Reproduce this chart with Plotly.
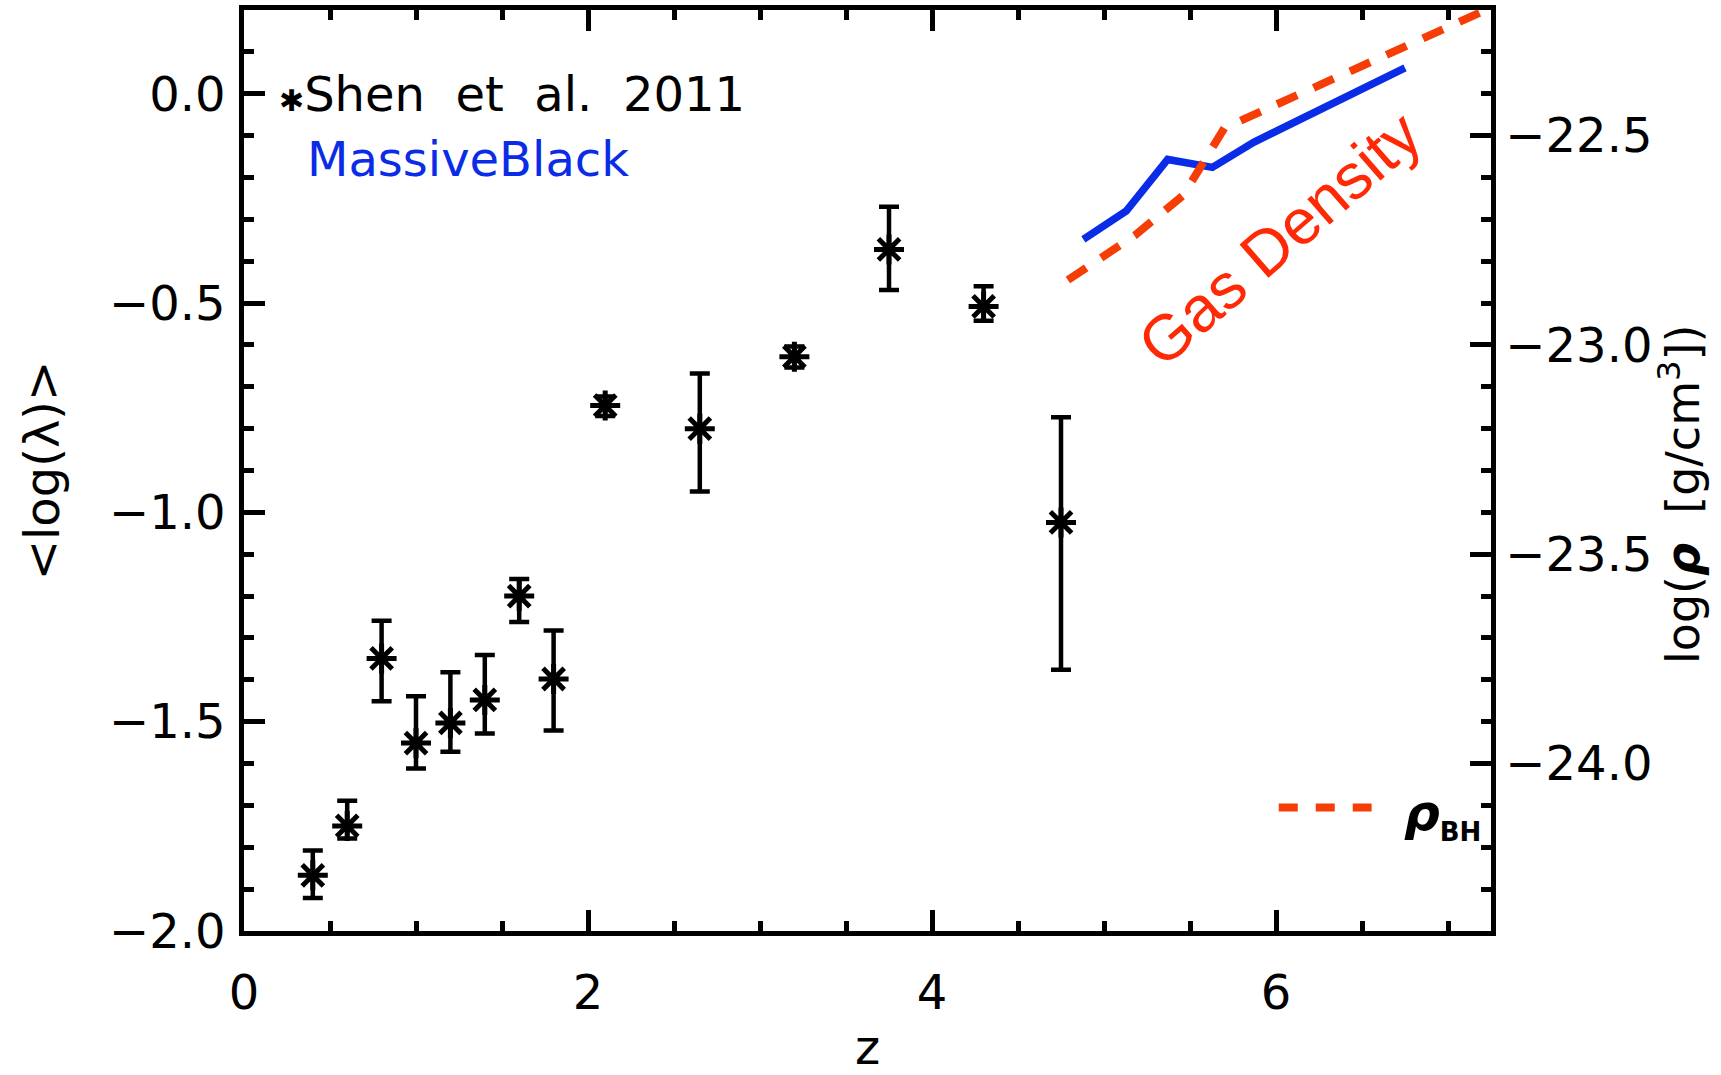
import plotly.graph_objects as go

# Shen et al. (2011): mean log Eddington ratio per redshift bin, with error-bar ends
z_shen = [0.4, 0.6, 0.8, 1.0, 1.2, 1.4, 1.6, 1.8, 2.1, 2.65, 3.2, 3.75, 4.3, 4.75]
loglam_mean = [-1.867, -1.749, -1.349, -1.551, -1.503, -1.448, -1.200, -1.398,
               -0.745, -0.800, -0.628, -0.372, -0.508, -1.024]
loglam_hi = [-1.808, -1.689, -1.259, -1.439, -1.382, -1.341, -1.159, -1.282,
             -0.723, -0.668, -0.604, -0.270, -0.460, -0.773]
loglam_lo = [-1.921, -1.779, -1.451, -1.612, -1.572, -1.528, -1.262, -1.521,
             -0.770, -0.950, -0.654, -0.469, -0.542, -1.376]

# MassiveBlack gas density around black holes, log(rho [g/cm^3])
z_mb = [4.88, 5.13, 5.37, 5.63, 5.87, 6.75]
rho_mb = [-22.748, -22.680, -22.557, -22.576, -22.516, -22.338]

# rho_BH curve, log(rho [g/cm^3])
z_bh = [4.79, 5.18, 5.46, 5.70, 7.30]
rho_bh = [-22.845, -22.738, -22.643, -22.482, -22.185]

x_ticks = [0, 2, 4, 6]
y_ticks = [-2.0, -1.5, -1.0, -0.5, 0.0]
y2_ticks = [-24.0, -23.5, -23.0, -22.5]

BLUE = "#0a2ce6"
ORANGE = "#f53d05"
RED = "#ff2a05"
FONT = "DejaVu Sans"

err_plus = [h - m for h, m in zip(loglam_hi, loglam_mean)]
err_minus = [m - l for m, l in zip(loglam_mean, loglam_lo)]

fig = go.Figure()

fig.add_trace(go.Scatter(
    x=z_shen, y=loglam_mean, mode="markers",
    marker=dict(symbol="asterisk-open", size=25, color="black",
                line=dict(color="black", width=5)),
    error_y=dict(type="data", symmetric=False, array=err_plus,
                 arrayminus=err_minus, color="black", thickness=4.5, width=10),
    showlegend=False,
))

fig.add_trace(go.Scatter(
    x=z_mb, y=rho_mb, mode="lines", yaxis="y2",
    line=dict(color=BLUE, width=7.5),
    showlegend=False,
))

fig.add_trace(go.Scatter(
    x=z_bh, y=rho_bh, mode="lines", yaxis="y2",
    line=dict(color=ORANGE, width=8, dash="22px,18px"),
    showlegend=False,
))

axis_common = dict(
    showline=True, linecolor="black", linewidth=4.5,
    ticks="inside", tickcolor="black", tickwidth=4.5, ticklen=21,
    showgrid=False, zeroline=False, automargin=False,
    tickfont=dict(family=FONT, size=48, color="black"),
)

fig.update_layout(
    width=1721, height=1075,
    margin=dict(l=244, r=230, t=10, b=144),
    paper_bgcolor="white", plot_bgcolor="white",
    xaxis=dict(
        range=[0, 7.25], tickmode="array", tickvals=x_ticks,
        ticktext=[str(v) for v in x_ticks], mirror="ticks",
        minor=dict(dtick=0.5, tick0=0, ticks="inside", ticklen=10,
                   tickwidth=4.5, tickcolor="black"),
        ticklabelstandoff=16,
        title=dict(text="z", font=dict(family=FONT, size=48, color="black"),
                   standoff=67),
        **axis_common,
    ),
    yaxis=dict(
        range=[-2.0, 0.2], tickmode="array", tickvals=y_ticks,
        ticktext=[f"{v:.1f}".replace("-", "\u2212") for v in y_ticks],
        minor=dict(dtick=0.1, tick0=0, ticks="inside", ticklen=10,
                   tickwidth=4.5, tickcolor="black"),
        ticklabelstandoff=4,
        title=dict(text="<log(\u03bb)>",
                   font=dict(family=FONT, size=48, color="black"), standoff=36),
        **axis_common,
    ),
    yaxis2=dict(
        range=[-24.4, -22.2], overlaying="y", side="right", tickmode="array",
        tickvals=y2_ticks,
        ticktext=[f"{v:.1f}".replace("-", "\u2212") for v in y2_ticks],
        minor=dict(dtick=0.1, tick0=-22.5, ticks="inside", ticklen=10,
                   tickwidth=4.5, tickcolor="black"),
        ticklabelstandoff=0,
        **axis_common,
    ),
)

annotations = [
    dict(x=0.19, y=0.0, xref="x", yref="y", xanchor="left", yanchor="middle",
         text="<b><span style='font-size:30px'>\u2731</span></b>Shen\u00a0 et\u00a0 al.\u00a0 2011",
         showarrow=False, font=dict(family=FONT, size=48, color="black")),
    dict(x=0.356, y=-0.155, xref="x", yref="y", xanchor="left", yanchor="middle",
         text="MassiveBlack", showarrow=False,
         font=dict(family=FONT, size=48, color=BLUE)),
    dict(x=6.02, y=-0.346, xref="x", yref="y", xanchor="center", yanchor="middle",
         text="Gas Density", textangle=-41, showarrow=False,
         font=dict(family="Liberation Sans", size=64, color=RED)),
    dict(x=6.73, y=-1.725, xref="x", yref="y", xanchor="left", yanchor="middle",
         text="<b><i>\u03c1</i><sub><span style='font-size:26px'>BH</span></sub></b>",
         showarrow=False, font=dict(family=FONT, size=50, color="black")),
    # right-hand axis title
    dict(x=1.1516, y=0.4734, xref="paper", yref="paper", xanchor="center",
         yanchor="middle", textangle=-90, showarrow=False,
         text="log(<b><i>\u03c1</i></b> \u00a0[g/cm<sup>3</sup>])",
         font=dict(family=FONT, size=46, color="black")),
]
fig.update_layout(annotations=annotations)

# legend key for the rho_BH curve
fig.add_shape(type="line", xref="x", yref="y", x0=6.016, x1=6.556,
              y0=-1.705, y1=-1.705,
              line=dict(color=ORANGE, width=8, dash="19px,18px"))

fig.write_html("out.html")
